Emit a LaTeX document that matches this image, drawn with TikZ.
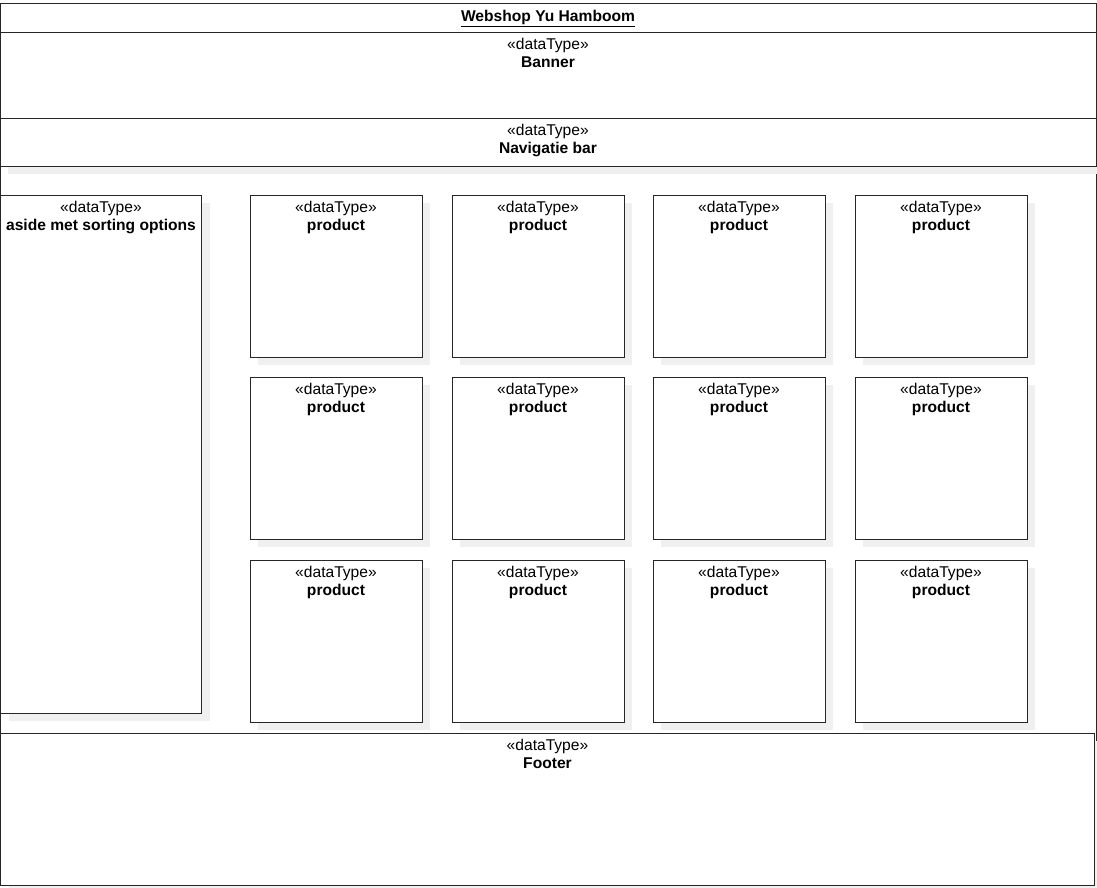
\documentclass[tikz,border=0pt]{standalone}
\usepackage{fontspec}
\setmainfont{Liberation Sans}
\usetikzlibrary{shadows}
\tikzset{
	dtbox/.style={draw=black!85, line width=1pt, fill=white, inner sep=0pt,
		drop shadow={shadow xshift=8pt, shadow yshift=-8pt, fill=black!6, opacity=1},
		label={[anchor=north, yshift=-6pt, inner sep=0pt, align=center, font=\fontsize{15.6}{18}\selectfont]north:{«dataType»\\\textbf{#1}}}},
	prodbox/.style={dtbox=product, minimum width=172pt, minimum height=162pt}
}
\begin{document}
\begin{tikzpicture}[x=1pt, y=-1pt]
					\useasboundingbox (0,0) rectangle (1097,887);
					\draw[line width=1pt, black!85] (0.5,3) rectangle (1096,885);
					\node (banner) at (548,75) [dtbox=Banner, minimum width=1096pt, minimum height=86pt] {};
					\node (nav) at (548,142) [dtbox={Navigatie bar}, minimum width=1096pt, minimum height=48pt] {};
					\node (title) at (548,18.5) [font=\fontsize{15.6}{18}\selectfont\bfseries] {\underline{Webshop Yu Hamboom}};
					\node (aside) at (101,454) [dtbox={aside met sorting options}, minimum width=201pt, minimum height=518pt] {};
					\foreach \c/\x in {1/336,2/538,3/739,4/941}
						\foreach \r/\y in {1/276,2/458,3/641}
							\node (p\r\c) at (\x,\y) [prodbox] {};
					\node (footer) at (547.5,809) [dtbox=Footer, minimum width=1094pt, minimum height=152pt, drop shadow={opacity=0}] {};
			\end{tikzpicture}
\end{document}
